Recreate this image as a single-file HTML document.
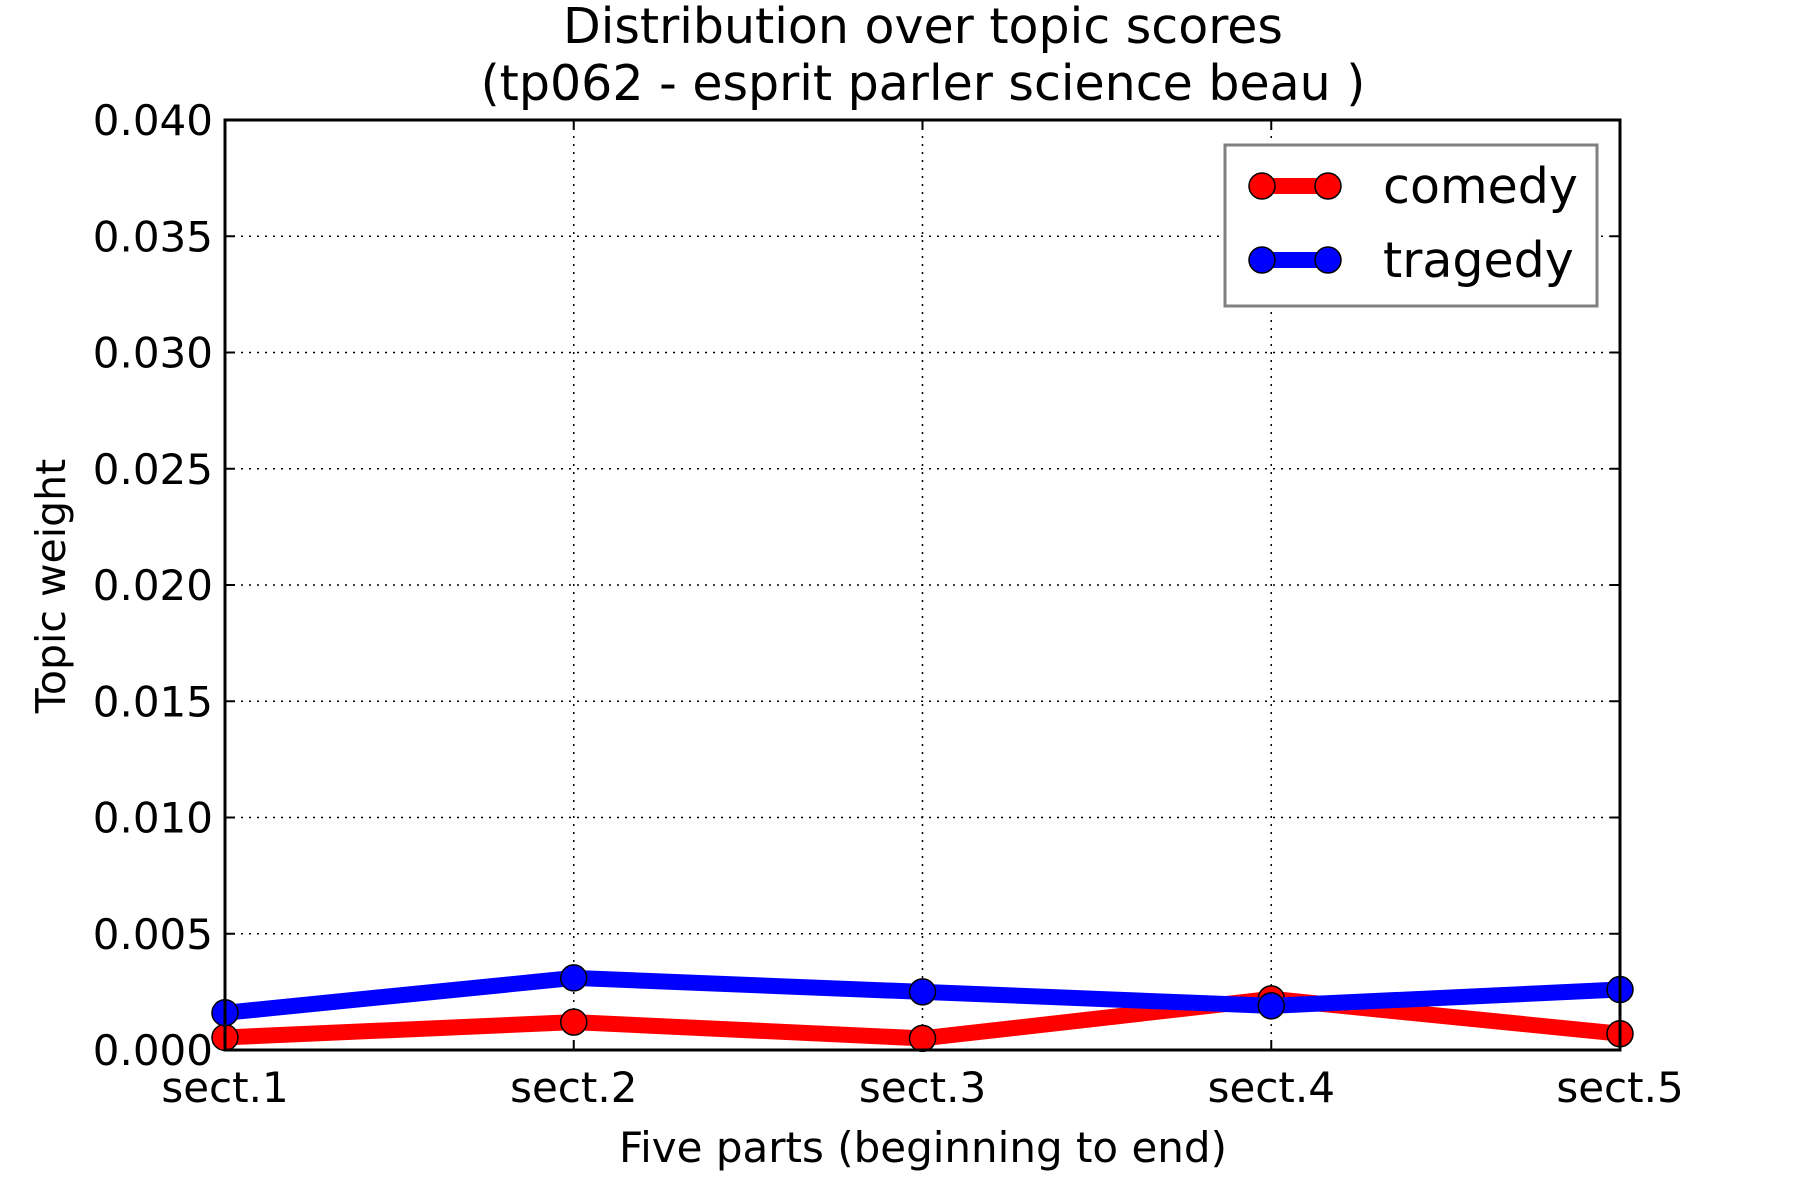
<!DOCTYPE html>
<html><head><meta charset="utf-8"><style>
html,body{margin:0;padding:0;background:#fff;}
svg{display:block;font-family:"DejaVu Sans","Liberation Sans",sans-serif;}
</style></head><body>
<svg id="chart" width="1800" height="1200" viewBox="0 0 1800 1200">
<text x="923" y="43" font-size="49" text-anchor="middle">Distribution over topic scores</text>
<text x="923" y="100" font-size="49" text-anchor="middle">(tp062 - esprit parler science beau )</text>
<g id="grid"></g>
<g id="ticks"></g>
<g id="series"></g>
<rect x="225" y="120" width="1395" height="930" fill="none" stroke="#000" stroke-width="3"/>
<text x="923" y="1162" font-size="42" text-anchor="middle">Five parts (beginning to end)</text>
<text transform="translate(65,586) rotate(-90)" font-size="41" text-anchor="middle">Topic weight</text>
<g>
<rect x="1225" y="145" width="372" height="161" fill="#fff" stroke="#808080" stroke-width="3"/>
<g>
<line x1="1262" y1="186" x2="1328" y2="186" stroke="#f00" stroke-width="16"/>
<circle cx="1262" cy="186" r="13" fill="#f00" stroke="#000" stroke-width="1.5"/>
<circle cx="1328" cy="186" r="13" fill="#f00" stroke="#000" stroke-width="1.5"/>
<text x="1383" y="203" font-size="49">comedy</text></g>
<g>
<line x1="1262" y1="260" x2="1328" y2="260" stroke="#00f" stroke-width="16"/>
<circle cx="1262" cy="260" r="13" fill="#00f" stroke="#000" stroke-width="1.5"/>
<circle cx="1328" cy="260" r="13" fill="#00f" stroke="#000" stroke-width="1.5"/>
<text x="1383" y="277" font-size="49">tragedy</text></g>
</g>
</svg>
<script>
const categories = ["sect.1","sect.2","sect.3","sect.4","sect.5"];
const comedy = [0.00054,0.0012,0.0005,0.0022,0.0007];
const tragedy = [0.0016,0.0031,0.0025,0.0019,0.0026];
const yTicks = [0,0.005,0.010,0.015,0.020,0.025,0.030,0.035,0.040];
const yTickLabels = ["0.000","0.005","0.010","0.015","0.020","0.025","0.030","0.035","0.040"];
const L=225,R=1620,T=120,B=1050,NS="http://www.w3.org/2000/svg";
function xs(i){return L+(R-L)*i/(categories.length-1);}
function ys(v){return B-(B-T)*v/0.040;}
function mk(tag,a,p){const e=document.createElementNS(NS,tag);for(const k in a)e.setAttribute(k,a[k]);p.appendChild(e);return e;}
const grid=document.getElementById('grid'),ticks=document.getElementById('ticks'),series=document.getElementById('series');
yTicks.forEach((v,i)=>{const y=ys(v);
 if(i>0&&i<yTicks.length-1){const g=mk('line',{x1:L,x2:R,y1:y,y2:y,stroke:'#000','stroke-width':1.5,'stroke-dasharray':'2,6'},grid);
 
 }
 mk('line',{x1:L,x2:L+10,y1:y,y2:y,stroke:'#000','stroke-width':2},ticks);
 mk('line',{x1:R-10,x2:R,y1:y,y2:y,stroke:'#000','stroke-width':2},ticks);
 const t=mk('text',{x:L-12,y:y+15,'font-size':42,'text-anchor':'end'},ticks);t.textContent=yTickLabels[i];
 
 });
categories.forEach((c,i)=>{const x=xs(i);
 if(i>0&&i<categories.length-1){const g=mk('line',{x1:x,x2:x,y1:T,y2:B,stroke:'#000','stroke-width':1.5,'stroke-dasharray':'2,6'},grid);
 
 }
 mk('line',{x1:x,x2:x,y1:B,y2:B-10,stroke:'#000','stroke-width':2},ticks);
 mk('line',{x1:x,x2:x,y1:T,y2:T+10,stroke:'#000','stroke-width':2},ticks);
 const t=mk('text',{x:x,y:1102,'font-size':42,'text-anchor':'middle'},ticks);t.textContent=c;
 
 });
function draw(vals,color,name){
 const pl=mk('polyline',{points:vals.map((v,i)=>xs(i)+','+ys(v)).join(' '),fill:'none',stroke:color,'stroke-width':16,'stroke-linejoin':'miter'},series);
 
 
 vals.forEach((v,i)=>{const c=mk('circle',{cx:xs(i),cy:ys(v),r:13,fill:color,stroke:'#000','stroke-width':1.5},series);
 
 });}
draw(comedy,'#f00','comedy');
draw(tragedy,'#00f','tragedy');
</script>
</body></html>
